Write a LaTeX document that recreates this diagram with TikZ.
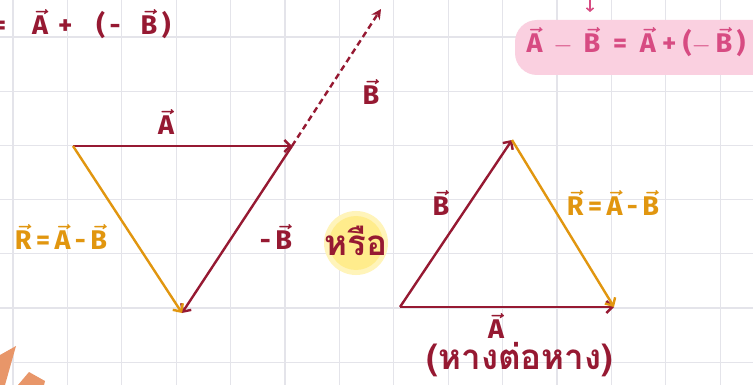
\documentclass[tikz,border=0pt]{standalone}
\usepackage{amsmath}
\usepackage{fontspec}
\setmainfont{Fira Sans}
\newfontfamily\thaifont[Script=Thai]{Loma}
\usetikzlibrary{arrows.meta, positioning, calc}

\definecolor{vecred}{RGB}{150,25,50}
\definecolor{vecorange}{RGB}{225,150,15}
\definecolor{notepink}{RGB}{215,75,130}
\definecolor{bandpink}{RGB}{250,208,224}
\definecolor{hlyellow}{RGB}{255,236,140}
\definecolor{gridgray}{RGB}{228,228,234}
\definecolor{brush}{RGB}{232,150,105}

\newcommand{\vv}[1]{{\boldmath$\vec{\text{#1}}$}}

\begin{document}
\begin{tikzpicture}[
    x=1pt, y=-1pt,
    vec/.style={line width=2.4pt, vecred, -{Straight Barb[length=6pt, width=12pt]}},
    res/.style={vec, vecorange},
    lbl/.style={font=\fontsize{27}{30}\selectfont\bfseries, text=vecred, inner sep=2pt},
    reslbl/.style={lbl, text=vecorange},
    thai/.style={font=\fontsize{35}{38}\selectfont\thaifont\bfseries, text=vecred}
]
    \fill[white] (0,0) rectangle (753,385);
    \useasboundingbox (0,0) rectangle (753,385);

    % grid paper
    \foreach \i in {0,...,13}
        \draw[gridgray, line width=1.2pt] ({13+54.4*\i},0) -- ({13+54.4*\i},385);
    \foreach \j in {0,...,6}
        \draw[gridgray, line width=1.2pt] (0,{37+54.2*\j}) -- (753,{37+54.2*\j});

    % highlights
    \fill[bandpink, rounded corners=22pt] (515,20) rectangle (780,75);
    \fill[hlyellow!60] (356,243) circle (32);
    \fill[hlyellow] (356,243) circle (27);
    \fill[brush] (0,355) -- (16,346) -- (5,385) -- (0,385) -- cycle;
    \fill[brush] (18,385) -- (29,372) -- (45,381) -- (44,385) -- cycle;

    % head-to-tail
    \coordinate (L1) at (73,146);
    \coordinate (L2) at (292,146);
    \coordinate (L3) at (182,313);
    \coordinate (Btip) at (381,9);

    \draw[vec] (L1) -- (L2);
    \draw[vecred, line width=2.4pt, dash pattern=on 6pt off 4pt, -{Stealth[length=10pt, width=10pt]}] (L2) -- (Btip);
    \draw[vec] (L2) -- (L3);
    \draw[res] (L1) -- (L3);

    % tail-to-tail
    \coordinate (P1) at (400,307);
    \coordinate (P2) at (512,140);
    \coordinate (P3) at (614,307);

    \draw[vec] (P1) -- (P3);
    \draw[vec] (P1) -- (P2);
    \draw[res] (P2) -- (P3);

    % labels
    \node[lbl, anchor=west] (sum) at (-10,24) {=\hspace{26pt}\vv{A}\hspace{10pt}+\hspace{24pt}(\,-\hspace{20pt}\vv{B}\,)};
    \node[lbl] (lA) at (166,122) {\vv{A}};
    \node[lbl] (lB) at (371,92) {\vv{B}};
    \node[lbl] (lnB) at (276,237) {-\,\vv{B}};
    \node[reslbl] (lR) at (61,237) {\vv{R}\,=\,\vv{A}\,-\,\vv{B}};
    \node[thai] (or) at (356,241) {หรือ};
    \node[lbl] (rB) at (441,203) {\vv{B}};
    \node[reslbl] (rR) at (613,203) {\vv{R}\,=\,\vv{A}\,-\,\vv{B}};
    \node[lbl] (rA) at (496,326) {\vv{A}};
    \node[thai] (tt) at (520,360) {(หางต่อหาง)};

    % note
    \node[lbl, text=notepink] (note) at (636,42) {\vv{A}\ \,$-$\ \,\vv{B}\ \ =\ \ \vv{A}\ +\ ($-$\,\vv{B}\,)};
    \draw[notepink, line width=1.6pt, -{Straight Barb[length=3pt, width=7pt]}] (590,-2) -- (590,12);
\end{tikzpicture}
\end{document}
